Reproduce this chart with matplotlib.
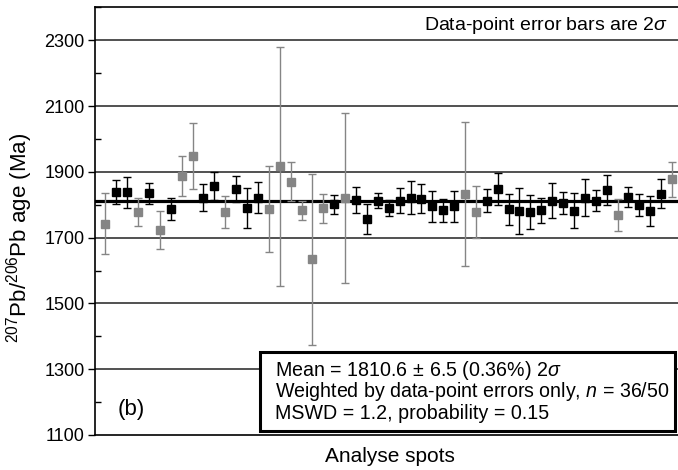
import numpy as np
import matplotlib.pyplot as plt
from matplotlib.patches import Rectangle
from matplotlib.ticker import MultipleLocator

plt.rcParams['font.family'] = ['Liberation Sans', 'DejaVu Sans']
plt.rcParams['mathtext.fontset'] = 'custom'
plt.rcParams['mathtext.rm'] = 'Liberation Sans'
plt.rcParams['mathtext.it'] = 'Liberation Sans:italic'

# 207Pb/206Pb ages (Ma) and 2 sigma errors
ages = [1743, 1838, 1838, 1777, 1835, 1724, 1787, 1887, 1948, 1822,
        1857, 1778, 1849, 1791, 1822, 1787, 1917, 1870, 1783, 1635,
        1790, 1801, 1820, 1815, 1757, 1813, 1790, 1813, 1821, 1819,
        1795, 1784, 1795, 1834, 1778, 1813, 1847, 1786, 1781, 1778,
        1783, 1813, 1806, 1782, 1822, 1812, 1845, 1769, 1824, 1800,
        1781, 1834, 1877]
errors = [93, 37, 48, 43, 32, 57, 33, 61, 101, 42,
          43, 48, 40, 61, 48, 130, 363, 60, 29, 260,
          44, 30, 258, 40, 46, 24, 25, 37, 50, 45,
          46, 35, 47, 219, 78, 35, 49, 48, 70, 52,
          39, 53, 33, 53, 55, 32, 47, 48, 30, 34,
          47, 45, 53]
# 1 = used in the weighted mean (black), 0 = rejected (grey)
accepted = [0, 1, 1, 0, 1, 0, 1, 0, 0, 1,
            1, 0, 1, 1, 1, 0, 0, 0, 0, 0,
            0, 1, 0, 1, 1, 1, 1, 1, 1, 1,
            1, 1, 1, 0, 0, 1, 1, 1, 1, 1,
            1, 1, 1, 1, 1, 1, 1, 0, 1, 1,
            1, 1, 0]
mean_age = 1810.6

ages = np.array(ages, dtype=float)
errors = np.array(errors, dtype=float)
accepted = np.array(accepted, dtype=bool)
spots = np.arange(1, len(ages) + 1)

fig = plt.figure(figsize=(6.78, 4.70), dpi=100)
ax = fig.add_axes([0.1394, 0.0745, 0.8606, 0.9096])

for yv in range(1300, 2301, 200):
    ax.axhline(yv, color='#333333', lw=1.2, zorder=1)
ax.axhline(mean_age, color='black', lw=2.3, zorder=2)

ax.errorbar(spots[~accepted], ages[~accepted], yerr=errors[~accepted],
            fmt='s', color='#858585', ms=5.8, elinewidth=1.0, capsize=2.6,
            capthick=1.0, zorder=3)
ax.errorbar(spots[accepted], ages[accepted], yerr=errors[accepted],
            fmt='s', color='black', ms=5.8, elinewidth=1.0, capsize=2.6,
            capthick=1.0, zorder=4)

ax.set_xlim(0, 53.55)
ax.set_ylim(1100, 2400)
ax.set_xticks([])
ax.yaxis.set_major_locator(MultipleLocator(200))
ax.yaxis.set_minor_locator(MultipleLocator(100))
ax.set_yticks(range(1100, 2301, 200))
ax.tick_params(axis='y', which='major', direction='out', length=5, width=1.0,
               labelsize=13, pad=2)
ax.tick_params(axis='y', which='minor', direction='in', length=4, width=1.0)
for s in ['left', 'bottom', 'top']:
    ax.spines[s].set_linewidth(1.2)
ax.spines['right'].set_visible(False)

ax.text(0.983, 0.959, r'Data-point error bars are 2$\sigma$', transform=ax.transAxes,
        ha='right', va='center', fontsize=14)
ax.text(0.040, 0.06, '(b)', transform=ax.transAxes, ha='left', va='center',
        fontsize=16)

ax.add_patch(Rectangle((0.2836, 0.0094), 0.7113, 0.1846, transform=ax.transAxes,
                       facecolor='white', edgecolor='black', lw=2.2, zorder=6))
box_lines = [r'Mean = 1810.6$\,\pm\,$6.5 (0.36%) 2$\sigma$',
             r'Weighted by data-point errors only, $n$ = 36/50',
             'MSWD = 1.2, probability = 0.15']
for txt, yy in zip(box_lines, [0.1504, 0.1013, 0.0491]):
    ax.text(0.309, yy, txt, transform=ax.transAxes, ha='left', va='center',
            fontsize=14.1, zorder=7)

fig.text(389.5 / 678, 1 - 457 / 470, 'Analyse spots', ha='center', va='center',
         fontsize=15)
fig.text(20 / 678, 1 - 238 / 470, r'$^{207}$Pb/$^{206}$Pb age (Ma)', rotation=90,
         ha='center', va='center', fontsize=16)

fig.savefig('out.png', dpi=100)
